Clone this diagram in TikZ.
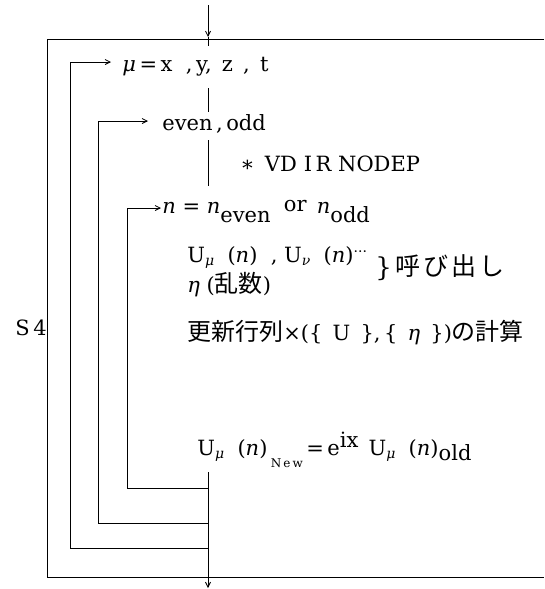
\documentclass[tikz,border=0pt]{standalone}
\usepackage{fontspec}
\setmainfont{DejaVu Serif}
\newfontfamily\cjk{Noto Sans CJK JP}
\usetikzlibrary{arrows.meta}

\begin{document}
\begin{tikzpicture}[x=1pt,y=-1pt,line width=0.8pt,
  lbl/.style={anchor=base west,inner sep=0pt,font=\fontsize{21}{25}\selectfont},
  flow/.style={-{Straight Barb[length=5pt,width=5pt]}}]
\useasboundingbox (0,0) rectangle (544,589);
\newcommand{\gk}[1]{\textit{#1}}
\newcommand{\idx}[1]{\raisebox{-3pt}{\fontsize{14}{15}\selectfont\gk{#1}}}
\newcommand{\jp}[1]{{\fontsize{24}{26}\selectfont\cjk #1}}
\newcommand{\jpw}[1]{{\fontsize{25}{26}\selectfont\cjk\addfontfeature{LetterSpace=12}#1}}

% frame of the S4 loop, open to the right
\coordinate (tr) at (544,39);
\coordinate (tl) at (47,39);
\coordinate (bl) at (47,577);
\coordinate (br) at (544,577);
\draw (tr) -- (tl) -- (bl) -- (br);

% main flow line
\coordinate (in) at (208,5);
\coordinate (inend) at (208,46);
\draw[flow] (in) -- (208,37);
\draw (208,37) -- (inend);
\coordinate (a1) at (208,88);  \coordinate (a2) at (208,112);
\coordinate (b1) at (208,140); \coordinate (b2) at (208,186);
\coordinate (c1) at (208,472); \coordinate (c2) at (208,588);
\draw (a1) -- (a2);
\draw (b1) -- (b2);
\draw[flow] (c1) -- (c2);

% nested loops
\coordinate (l1e) at (208,548);
\coordinate (l2e) at (208,523);
\coordinate (l3e) at (208,488);
\draw[flow] (l1e) -- (70,548) -- (70,62) -- (111,62);
\draw[flow] (l2e) -- (98,523) -- (98,121) -- (148,121);
\draw[flow] (l3e) -- (127,488) -- (127,208) -- (161,208);

% texts
\node[lbl] (mu) at (122,71) {\gk{μ}\,=\,x\ \ ,\,y,\ \,z\ \,,\ \,t};
\node[lbl] (eo) at (162,130) {even\,,\,odd};
\node[lbl] (vd) at (240,171) {∗\ \,VD\,\,I\,R\ NODEP};
\node[lbl] (nn) at (162,213) {\gk{n}\ =\ \gk{n}\raisebox{-9pt}{even}\ \ \raisebox{2pt}{or}\ \,\gk{n}\raisebox{-9pt}{odd}};
\node[lbl] (uu) at (187,262) {U\idx{μ}\ \ (\gk{n})\ \ ,\ U\idx{ν}\ \ (\gk{n})\raisebox{6pt}{\fontsize{14}{15}\selectfont ···}};
\node[lbl] (br1) at (375,275) {\raisebox{-1pt}{\fontsize{26}{26}\selectfont\}}\,\jpw{呼び出し}};
\node[lbl] (et) at (187,292) {\gk{η}\ (\jp{乱数})};
\node[lbl] (up) at (187,340) {\jp{更新行列}×(\{\ \,U\ \,\},\,\{\ \,\gk{η}\ \,\})\jp{の計算}};
\node[lbl] (nw) at (197,455) {U\idx{μ}\ \ (\gk{n})\,\raisebox{-12pt}{\fontsize{12}{12}\selectfont N\,e\,w}\,=\,e\raisebox{8pt}{ix}\ \,U\idx{μ}\ \ (\gk{n})\raisebox{-5pt}{old}};
\node[lbl] (s4) at (15,335) {S\,4};
\end{tikzpicture}
\end{document}
